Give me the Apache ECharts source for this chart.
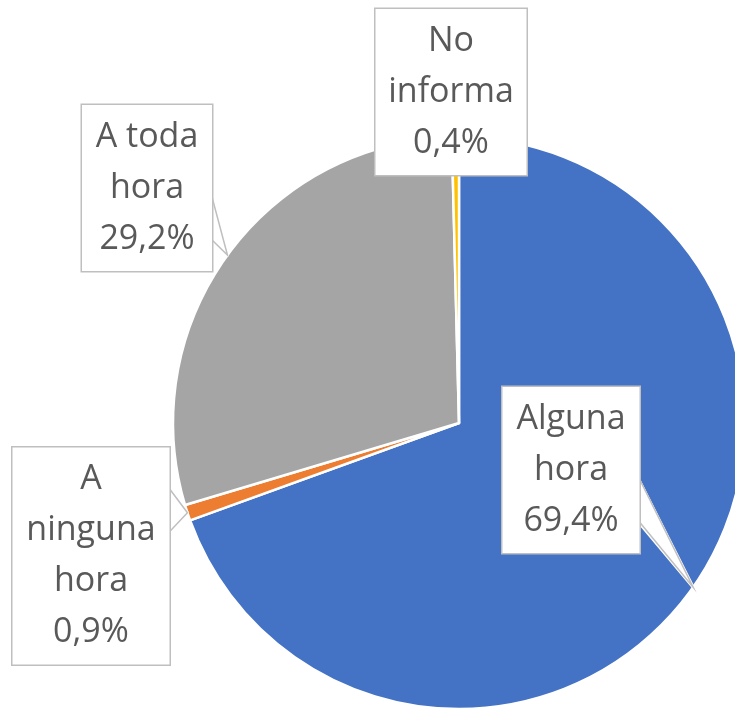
<!DOCTYPE html>
<html>
<head>
<meta charset="utf-8">
<script src="https://cdn.jsdelivr.net/npm/echarts@6/dist/echarts.min.js"></script>
<style>
  html, body { margin: 0; padding: 0; background: #fff; }
  #chart { width: 735px; height: 708px; }
</style>
</head>
<body>
<div id="chart"></div>
<script>
// values (percent)
const categories = ["Alguna hora", "A ninguna hora", "A toda hora", "No informa"];
const values = [69.4, 0.9, 29.2, 0.4];
const labelNames = ["Alguna\nhora", "A\nninguna\nhora", "A toda\nhora", "No\ninforma"];
const colors = ["#4472C4", "#ED7D31", "#A5A5A5", "#FFC000"];

// callout boxes: text centre and width
const boxCenter = [[571, 470], [91, 556], [147, 188], [451, 92]];
const boxWidth = [125, 145, 118, 139];

const chart = echarts.init(document.getElementById("chart"));

function fmt(v) {
  return v.toFixed(1).replace(".", ",") + "%";
}

// pointer base on the right edge of the box, toward the slice
function pointerBase(params) {
  const c = boxCenter[params.dataIndex];
  const right = c[0] + (boxWidth[params.dataIndex] + 12) / 2;
  const tip = params.labelLinePoints[0];
  const by = Math.min(Math.max(tip[1], c[1] - 52), c[1] + 33);
  return { tip: tip, a: [right, by - 24], b: [right, by + 19] };
}

// the callout pointer: outline, or a dense fan that fills it white
function makeLayout(fill) {
  return function (params) {
    const c = boxCenter[params.dataIndex];
    const out = { x: c[0], y: c[1], align: "center", verticalAlign: "middle" };
    const pts = params.labelLinePoints;
    if (pts && pts.length) {
      const p = pointerBase(params);
      if (fill) {
        const line = [];
        const n = 60;
        for (let k = 0; k <= n; k++) {
          line.push([p.a[0] - 1, p.a[1] + (p.b[1] - p.a[1]) * k / n]);
          line.push([p.tip[0], p.tip[1]]);
        }
        out.labelLinePoints = line;
      } else {
        out.labelLinePoints = [p.a, [p.tip[0], p.tip[1]], p.b];
      }
    }
    return out;
  };
}

const labelBase = {
  show: true,
  position: "outside",
  fontFamily: "Open Sans",
  fontSize: 34,
  lineHeight: 51,
  padding: [10, 6, 3, 6],
  align: "center",
  formatter: function (p) {
    return labelNames[p.dataIndex] + "\n" + fmt(p.value);
  }
};

function pieSeries(opts) {
  return Object.assign({
    type: "pie",
    center: [459, 423],
    radius: 286,
    startAngle: 90,
    clockwise: true,
    avoidLabelOverlap: false,
    emphasis: { disabled: true },
    data: categories.map(function (name, i) {
      const item = { name: name, value: values[i], label: { width: boxWidth[i] } };
      if (opts.colored) item.itemStyle = { color: colors[i] };
      if (i === 3) item.labelLine = { show: false };
      return item;
    })
  }, opts.series);
}

chart.setOption({
  animation: false,
  series: [
    // slices
    pieSeries({
      colored: true,
      series: {
        z: 2,
        itemStyle: { borderColor: "#fff", borderWidth: 2.5 },
        label: { show: false },
        labelLine: { show: false }
      }
    }),
    // white fill of the callout pointers (above the slices)
    pieSeries({
      series: {
        z: 3,
        silent: true,
        itemStyle: { color: "transparent", borderWidth: 0 },
        label: Object.assign({}, labelBase, { color: "transparent" }),
        labelLine: {
          show: true, length: 10, length2: 10,
          lineStyle: { color: "#fff", width: 3, join: "round", cap: "round" }
        },
        labelLayout: makeLayout(true)
      }
    }),
    // boxes, texts and pointer outlines
    pieSeries({
      series: {
        z: 4,
        silent: true,
        itemStyle: { color: "transparent", borderWidth: 0 },
        label: Object.assign({}, labelBase, {
          color: "#595959",
          backgroundColor: "#fff",
          borderColor: "#bfbfbf",
          borderWidth: 1.5
        }),
        labelLine: {
          show: true, length: 10, length2: 10,
          lineStyle: { color: "#bfbfbf", width: 1.5, join: "miter" }
        },
        labelLayout: makeLayout(false)
      }
    })
  ]
});
</script>
</body>
</html>
